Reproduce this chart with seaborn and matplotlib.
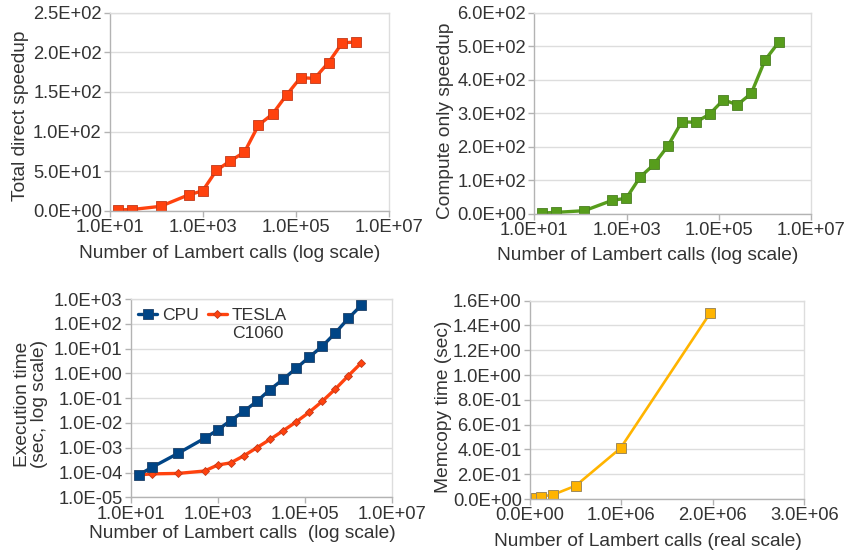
import numpy as np
import pandas as pd
import matplotlib
matplotlib.use("Agg")
import matplotlib.pyplot as plt
from matplotlib.ticker import FixedLocator, FuncFormatter, NullLocator
import seaborn as sns

# Number of Lambert calls per run
calls = [15, 30, 122, 490, 980, 1950, 3900, 7800, 15600, 31250, 62500,
         125000, 250000, 500000, 990000, 1970000]

total_speedup = [1, 1.5, 5.5, 20, 25, 51, 63, 74, 108, 122, 146, 168, 167,
                 187, 212, 213]
compute_speedup = [2, 4, 9, 40, 46, 109, 147, 202, 274, 273, 297, 340, 325,
                   359, 458, 512]
cpu_time = [8.0e-5, 1.6e-4, 6.0e-4, 2.4e-3, 5.2e-3, 1.25e-2, 2.9e-2, 7.4e-2,
            0.22, 0.57, 1.6, 4.5, 12.5, 43, 165, 560]
tesla_time = [8.0e-5, 8.8e-5, 9.2e-5, 1.15e-4, 2.0e-4, 2.45e-4, 4.7e-4,
              1.0e-3, 2.15e-3, 4.8e-3, 1.1e-2, 2.7e-2, 7.5e-2, 0.235, 0.80,
              2.65]
memcopy_time = [1e-5, 2e-5, 6e-5, 2.5e-4, 5e-4, 1e-3, 1.8e-3, 3e-3, 5e-3,
                7e-3, 0.011, 0.02, 0.034, 0.107, 0.41, 1.5]

log_x_ticks = [1e1, 1e3, 1e5, 1e7]
speedup_ticks = [0, 50, 100, 150, 200, 250]
compute_ticks = [0, 100, 200, 300, 400, 500, 600]
time_ticks = [1e-5, 1e-4, 1e-3, 1e-2, 1e-1, 1e0, 1e1, 1e2, 1e3]
memcopy_ticks = [0, 0.2, 0.4, 0.6, 0.8, 1.0, 1.2, 1.4, 1.6]
linear_x_ticks = [0, 1e6, 2e6, 3e6]

sns.set_theme(style="white")
plt.rcParams["font.family"] = ["Liberation Sans", "DejaVu Sans"]

TEXT = "#333333"
GRID = "#dddddd"
SPINE = "#b3b3b3"
TICK_FS = 13.2
LABEL_FS = 13.8
LEGEND_FS = 12.6
W, H = 845, 552

fig = plt.figure(figsize=(W / 100, H / 100), dpi=100)


def make_axes(left, right, top, bottom):
    return fig.add_axes([left / W, 1 - bottom / H, (right - left) / W,
                         (bottom - top) / H])


def px_to_axes(ax, x, y):
    """Figure pixel position (origin top-left) to axes fraction."""
    disp = (x, H - y)
    return ax.transAxes.inverted().transform(disp)


sci = FuncFormatter(lambda v, _: f"{v:.1E}")


def style(ax, xticks, yticks, xlim, ylim, xlabel, ylabel, xlab_at, ylab_at):
    ax.set_xlim(*xlim)
    ax.set_ylim(*ylim)
    ax.xaxis.set_major_locator(FixedLocator(xticks))
    ax.yaxis.set_major_locator(FixedLocator(yticks))
    ax.xaxis.set_minor_locator(NullLocator())
    ax.yaxis.set_minor_locator(NullLocator())
    ax.xaxis.set_major_formatter(sci)
    ax.yaxis.set_major_formatter(sci)
    ax.grid(axis="y", color=GRID, linewidth=1.0)
    ax.grid(axis="x", visible=False)
    ax.set_axisbelow(True)
    for side in ("left", "bottom"):
        ax.spines[side].set_color(SPINE)
        ax.spines[side].set_linewidth(1.0)
    for side in ("right", "top"):
        ax.spines[side].set_color(GRID)
        ax.spines[side].set_linewidth(1.0)
    ax.tick_params(axis="both", which="major", direction="out", length=4,
                   width=1, color=SPINE, labelsize=TICK_FS, labelcolor=TEXT,
                   pad=2, bottom=True, left=True)
    ax.set_xlabel(xlabel, fontsize=LABEL_FS, color=TEXT)
    ax.set_ylabel(ylabel, fontsize=LABEL_FS, color=TEXT)
    ax.xaxis.set_label_coords(*px_to_axes(ax, *xlab_at))
    ax.yaxis.set_label_coords(*px_to_axes(ax, *ylab_at))
    ax.xaxis.label.set_verticalalignment("center")
    ax.yaxis.label.set_verticalalignment("center")


df = pd.DataFrame({"calls": calls, "total": total_speedup,
                   "compute": compute_speedup, "cpu": cpu_time,
                   "tesla": tesla_time, "memcopy": memcopy_time})

# Total direct speedup
ax1 = make_axes(110, 389, 12.7, 210.7)
ax1.set_xscale("log")
sns.lineplot(data=df, x="calls", y="total", ax=ax1, color="#ff420e",
             linewidth=2.4, marker="s", markersize=7,
             markeredgecolor="#c0391a", markeredgewidth=0.6)
style(ax1, log_x_ticks, speedup_ticks, (1e1, 1e7), (0, 250),
      "Number of Lambert calls (log scale)", "Total direct speedup",
      (230, 253), (21, 116))

# Compute-only speedup
ax2 = make_axes(534.3, 811.3, 12.7, 213.7)
ax2.set_xscale("log")
sns.lineplot(data=df, x="calls", y="compute", ax=ax2, color="#579d1c",
             linewidth=2.4, marker="s", markersize=7,
             markeredgecolor="#4a7f22", markeredgewidth=0.6)
style(ax2, log_x_ticks, compute_ticks, (1e1, 1e7), (0, 600),
      "Number of Lambert calls (log scale)", "Compute only speedup",
      (648, 255), (445, 121))

# Execution time, CPU vs GPU (CPU line kept on top where they meet)
ax3 = make_axes(131, 392, 299, 497.3)
ax3.set_xscale("log")
ax3.set_yscale("log")
sns.lineplot(data=df, x="calls", y="cpu", ax=ax3, color="#004586",
             linewidth=2.4, marker="s", markersize=6.5,
             markeredgecolor="#1d3f66", markeredgewidth=0.6, label="CPU",
             zorder=4)
sns.lineplot(data=df, x="calls", y="tesla", ax=ax3, color="#ff420e",
             linewidth=2.4, marker="D", markersize=4.5,
             markeredgecolor="#c0391a", markeredgewidth=0.6, label="TESLA",
             zorder=3)
style(ax3, log_x_ticks, time_ticks, (1e1, 1e7), (1e-5, 1e3),
      "Number of Lambert calls  (log scale)",
      "Execution time\n(sec, log scale)",
      (242, 534), (31, 404))
ax3.yaxis.label.set_linespacing(1.05)
leg = ax3.legend(loc="center left", ncol=2, frameon=False,
                 fontsize=LEGEND_FS, handlelength=1.1, handletextpad=0.28,
                 columnspacing=0.5, borderaxespad=0.0, borderpad=0.0,
                 bbox_to_anchor=tuple(px_to_axes(ax3, 138, 315)))
for t in leg.get_texts():
    t.set_color(TEXT)

# second line of the GPU label, set under "TESLA"
fig.canvas.draw()
tesla_box = leg.get_texts()[1].get_window_extent()
x0, _ = ax3.transAxes.inverted().transform((tesla_box.x0, tesla_box.y0))
_, yc = px_to_axes(ax3, 0, 333)
ax3.text(x0, yc, "C1060", transform=ax3.transAxes, ha="left",
         va="center", fontsize=LEGEND_FS, color=TEXT)

# Memcopy time on a linear axis
ax4 = make_axes(530, 804.3, 300.7, 499)
sns.lineplot(data=df, x="calls", y="memcopy", ax=ax4, color="#ffb400",
             linewidth=1.9, marker="s", markersize=7,
             markeredgecolor="#a08a5a", markeredgewidth=0.7)
style(ax4, linear_x_ticks, memcopy_ticks, (0, 3e6), (0, 1.6),
      "Number of Lambert calls (real scale)", "Memcopy time (sec)",
      (648, 541), (443, 407))

fig.savefig("out.png", dpi=100, facecolor="white")
